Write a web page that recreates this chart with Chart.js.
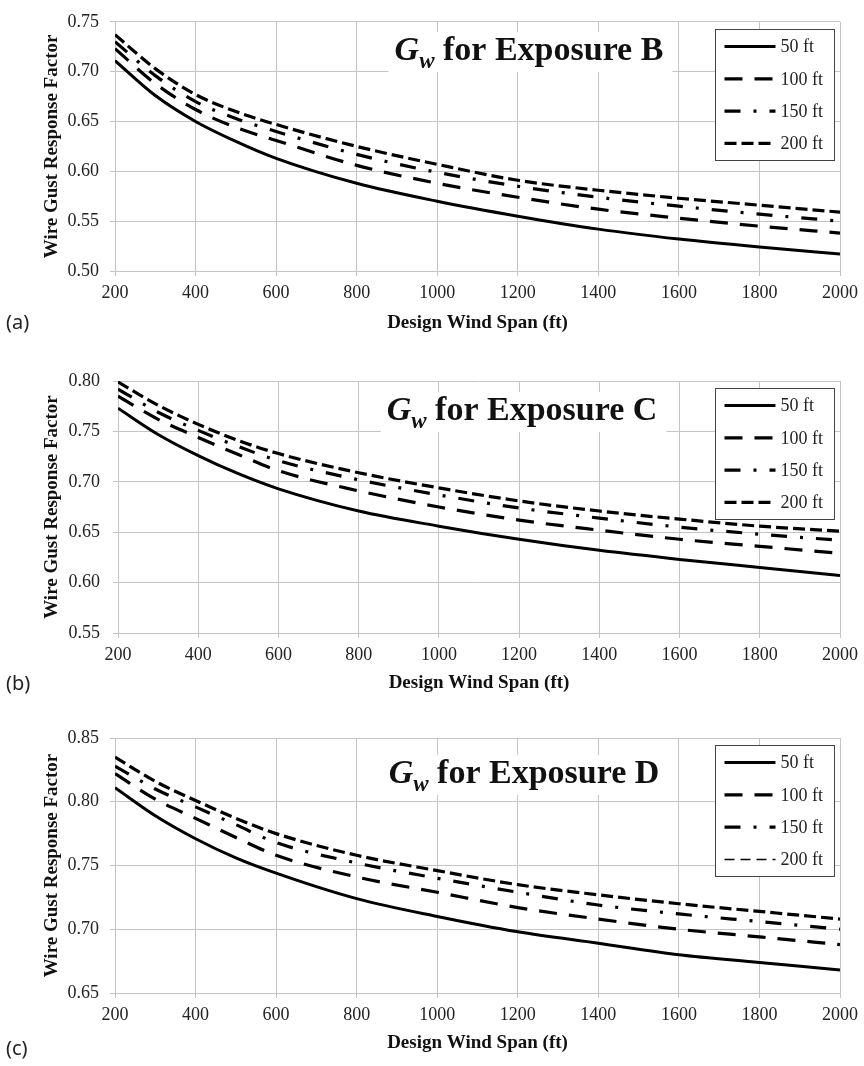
<!doctype html>
<html lang="en">
<head>
<meta charset="utf-8" />
<title>Wire Gust Response Factor</title>
<script src="https://cdn.jsdelivr.net/npm/chart.js@4.4.1/dist/chart.umd.min.js"></script>
<style>
  body { margin: 0; background: #fff; width: 864px; height: 1066px; position: relative; overflow: hidden; }
  canvas { position: absolute; left: 0; }
  .tag { position: absolute; left: 6px; font-family: "Noto Sans", sans-serif; font-size: 20px; line-height: 26px; color: #222; }
</style>
</head>
<body>
<canvas id="chartB" width="864" height="335" style="top:0px"></canvas>
<canvas id="chartC" width="864" height="355" style="top:340px"></canvas>
<canvas id="chartD" width="864" height="366" style="top:700px"></canvas>
<div class="tag" style="top:309px">(a)</div>
<div class="tag" style="top:670px">(b)</div>
<div class="tag" style="top:1035px">(c)</div>

<script>
// design wind span (ft)
const spans = [200, 300, 400, 500, 600, 800, 1000, 1200, 1400, 1600, 1800, 2000];
const heights = ['50 ft', '100 ft', '150 ft', '200 ft'];

// exposure B
const expB_50 = [0.711, 0.676, 0.650, 0.630, 0.613, 0.588, 0.570, 0.555, 0.542, 0.532, 0.524, 0.517];
const expB_100 = [0.723, 0.688, 0.662, 0.644, 0.631, 0.606, 0.588, 0.574, 0.562, 0.553, 0.545, 0.538];
const expB_150 = [0.730, 0.696, 0.670, 0.653, 0.640, 0.617, 0.599, 0.585, 0.574, 0.565, 0.557, 0.550];
const expB_200 = [0.737, 0.703, 0.677, 0.660, 0.647, 0.625, 0.607, 0.591, 0.581, 0.573, 0.566, 0.559];

// exposure C
const expC_50 = [0.773, 0.747, 0.726, 0.708, 0.693, 0.671, 0.656, 0.643, 0.632, 0.623, 0.615, 0.607];
const expC_100 = [0.785, 0.762, 0.744, 0.727, 0.711, 0.691, 0.675, 0.662, 0.652, 0.643, 0.636, 0.629];
const expC_150 = [0.792, 0.769, 0.751, 0.735, 0.721, 0.702, 0.687, 0.674, 0.664, 0.655, 0.648, 0.642];
const expC_200 = [0.799, 0.776, 0.757, 0.741, 0.728, 0.709, 0.694, 0.681, 0.671, 0.663, 0.656, 0.651];

// exposure D
const expD_50 = [0.811, 0.789, 0.771, 0.756, 0.744, 0.724, 0.710, 0.698, 0.689, 0.680, 0.674, 0.668];
const expD_100 = [0.822, 0.802, 0.787, 0.772, 0.758, 0.741, 0.729, 0.717, 0.708, 0.700, 0.694, 0.688];
const expD_150 = [0.828, 0.810, 0.796, 0.782, 0.768, 0.752, 0.740, 0.729, 0.719, 0.712, 0.706, 0.700];
const expD_200 = [0.835, 0.816, 0.801, 0.787, 0.775, 0.758, 0.746, 0.735, 0.727, 0.720, 0.714, 0.708];

const SERIF = '"Liberation Serif", "Times New Roman", serif';
const GRID = '#c4c4c4';
Chart.defaults.font.family = SERIF;
Chart.defaults.color = '#222';

// line styles as in the excel original
const lineStyles = [
    {dash: [], width: 3},
    {dash: [18, 12], width: 3.2},
    {dash: [16, 13, 3, 13], width: 3.2},
    {dash: [12, 5], width: 3.2}
];

// title "Gw for Exposure X" with white box + legend box inside the plot
const decorPlugin = {
    id: 'decor',
    afterDraw(chart, args, o) {
        const ctx = chart.ctx;
        const area = chart.chartArea;
        ctx.save();

        // title
        const big = 'bold 34px ' + SERIF;
        const bigIt = 'italic bold 34px ' + SERIF;
        const subIt = 'italic bold 23px ' + SERIF;
        const rest = ' for Exposure ' + o.exposure;
        ctx.font = bigIt; const wG = ctx.measureText('G').width;
        ctx.font = subIt; const wW = ctx.measureText('w').width;
        ctx.font = big; const wR = ctx.measureText(rest).width;
        const total = wG + wW + wR;
        let x = o.titleX - total / 2;
        const base = o.titleBase;
        ctx.fillStyle = '#fff';
        ctx.fillRect(x - 6, base - 28, total + 15, 40);
        ctx.fillStyle = '#111';
        ctx.textBaseline = 'alphabetic';
        ctx.textAlign = 'left';
        ctx.font = bigIt; ctx.fillText('G', x, base); x += wG;
        ctx.font = subIt; ctx.fillText('w', x, base + 8); x += wW;
        ctx.font = big; ctx.fillText(rest, x, base);

        // legend
        const bw = 119, bh = 131;
        const bx = Math.round(area.right - 6 - bw) + 0.5;
        const by = Math.round(area.top + 7) + 0.5;
        ctx.fillStyle = '#fff';
        ctx.fillRect(bx, by, bw, bh);
        ctx.strokeStyle = '#444';
        ctx.lineWidth = 1;
        ctx.setLineDash([]);
        ctx.strokeRect(bx, by, bw, bh);
        ctx.font = '18px ' + SERIF;
        ctx.textBaseline = 'middle';
        chart.data.datasets.forEach((ds, i) => {
            const y = by + 17 + i * 32.3;
            ctx.strokeStyle = '#000';
            ctx.lineWidth = ds.legendWidth || ds.borderWidth;
            ctx.setLineDash(ds.legendDash || ds.borderDash);
            ctx.beginPath();
            ctx.moveTo(bx + 9, y);
            ctx.lineTo(bx + 60, y);
            ctx.stroke();
            ctx.setLineDash([]);
            ctx.fillStyle = '#222';
            ctx.fillText(ds.label, bx + 65, y + 1);
        });
        ctx.restore();
    }
};

function buildChart(id, exposure, series, opt) {
    const H = document.getElementById(id).height;
    const datasets = series.map((vals, i) => {
        const ds = {
            label: heights[i],
            data: spans.map((s, k) => ({x: s, y: vals[k]})),
            borderColor: '#000',
            borderWidth: lineStyles[i].width,
            borderDash: lineStyles[i].dash,
            borderCapStyle: 'butt',
            pointRadius: 0,
            cubicInterpolationMode: 'monotone',
            fill: false
        };
        if (i === 3 && opt.thinLegend200) {
            ds.legendWidth = 1.5;
            ds.legendDash = [10, 6];
        }
        return ds;
    });

    return new Chart(document.getElementById(id), {
        type: 'line',
        data: {datasets: datasets},
        options: {
            responsive: false,
            animation: false,
            devicePixelRatio: 1,
            layout: {padding: {left: 0, top: opt.top, right: 864 - opt.right, bottom: 0}},
            plugins: {
                legend: {display: false},
                tooltip: {enabled: false},
                decor: {exposure: exposure, titleX: opt.titleX, titleBase: opt.titleBase}
            },
            scales: {
                x: {
                    type: 'linear',
                    min: 200, max: 2000,
                    ticks: {stepSize: 200, padding: 6, font: {size: 18}, maxRotation: 0,
                            callback: (v) => String(v)},
                    grid: {color: GRID, tickLength: 5, tickColor: GRID},
                    border: {color: GRID},
                    title: {display: true, text: 'Design Wind Span (ft)', font: {size: 19, weight: 'bold'},
                            color: '#111', padding: {top: 0, bottom: opt.xTitlePad}},
                    afterFit: (s) => { s.height = H - opt.bottom; }
                },
                y: {
                    type: 'linear',
                    min: opt.yMin, max: opt.yMax,
                    ticks: {stepSize: 0.05, padding: opt.left - 5 - opt.tickRight, font: {size: 18},
                            callback: (v) => v.toFixed(2)},
                    grid: {color: GRID, tickLength: 5, tickColor: GRID},
                    border: {color: GRID},
                    title: {display: true, text: 'Wire Gust Response Factor', font: {size: 19, weight: 'bold'},
                            color: '#111', padding: {top: 41, bottom: 0}},
                    afterFit: (s) => { s.width = opt.left; }
                }
            }
        },
        plugins: [decorPlugin]
    });
}

buildChart('chartB', 'B', [expB_50, expB_100, expB_150, expB_200],
    {top: 16, bottom: 271, left: 115, right: 844, tickRight: 99, yMin: 0.50, yMax: 0.75,
     xTitlePad: 0.6, titleX: 529, titleBase: 60});

buildChart('chartC', 'C', [expC_50, expC_100, expC_150, expC_200],
    {top: 41, bottom: 293, left: 118, right: 841, tickRight: 100, yMin: 0.55, yMax: 0.80,
     xTitlePad: 0.6, titleX: 522, titleBase: 80});

buildChart('chartD', 'D', [expD_50, expD_100, expD_150, expD_200],
    {top: 38, bottom: 293, left: 115, right: 842, tickRight: 99, yMin: 0.65, yMax: 0.85,
     xTitlePad: 11.6, titleX: 524, titleBase: 83, thinLegend200: true});
</script>
</body>
</html>
